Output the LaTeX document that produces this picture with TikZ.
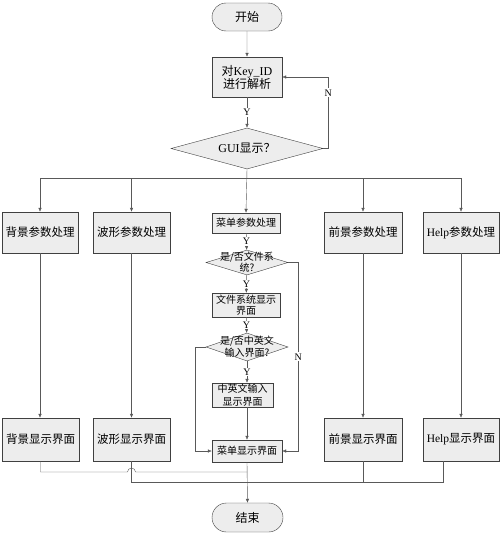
\documentclass[tikz,border=0pt]{standalone}
\usepackage{fontspec}
\setmainfont{Noto Sans CJK SC}
\newfontfamily\lat{Liberation Serif}
\usetikzlibrary{shapes.geometric,shapes.misc,arrows.meta}
\colorlet{boxfill}{black!7}
\colorlet{boxline}{black!75}
\colorlet{flowline}{black!65}
\begin{document}
\begin{tikzpicture}[x=1pt,y=-1pt,
    box/.style={rectangle,draw=boxline,fill=boxfill,inner sep=0pt,align=center},
    term/.style={rounded rectangle,draw=boxline,fill=boxfill,inner sep=0pt,
      minimum width=70,minimum height=28,font=\fontsize{12}{13}\selectfont},
    dec/.style={diamond,draw=boxline,fill=boxfill,inner sep=0pt},
    arr/.style={draw=flowline,-{Latex[length=4pt,width=3.5pt]}},
    ln/.style={draw=flowline},
    yn/.style={fill=white,inner sep=1pt,font=\lat\fontsize{10}{10}\selectfont}]

      \useasboundingbox (0,0) rectangle (500,533);

      \node[term] (start) at (247,17) {开始};
      \node[box,minimum width=70,minimum height=40,font=\fontsize{12}{13}\selectfont]
        (key) at (247,77) {对{\lat Key\_ID}\\进行解析};
      \node[dec,minimum width=152,minimum height=41,
        label={[font=\fontsize{12}{13}\selectfont]center:{\lat GUI}显示？}]
        (gui) at (247,148.5) {};
      \coordinate (split) at (247,178);

      % two rows of side boxes
      \begin{scope}[every node/.style={box,minimum height=41,font=\fontsize{11.5}{12}\selectfont}]
        \node[minimum width=76] (bgp) at (40,232.5)    {背景参数处理};
        \node[minimum width=77] (wvp) at (131.5,232.5) {波形参数处理};
        \node[minimum width=78] (fgp) at (363,232.5)   {前景参数处理};
        \node[minimum width=76] (hlp) at (461,232.5)   {{\lat Help}参数处理};
      \end{scope}
      \begin{scope}[every node/.style={box,minimum height=43,font=\fontsize{11.5}{12}\selectfont}]
        \node[minimum width=77] (bgs) at (40.5,439.5)  {背景显示界面};
        \node[minimum width=77] (wvs) at (131.5,439.5) {波形显示界面};
        \node[minimum width=78] (fgs) at (363,439.5)   {前景显示界面};
        \node[minimum width=76] (hls) at (461,439.5)   {{\lat Help}显示界面};
      \end{scope}

      % menu column
      \begin{scope}[every node/.style={font=\fontsize{10}{11}\selectfont}]
        \node[box,minimum width=68,minimum height=20] (menu) at (246,223) {菜单参数处理};
        \node[dec,minimum width=82,minimum height=25,
          label={[align=center,font=\fontsize{10}{11}\selectfont]center:是/否文件系\\统?}]
          (d1) at (247,262.5) {};
        \node[box,minimum width=68,minimum height=24] (fs) at (246,305) {文件系统显示\\界面};
        \node[dec,minimum width=82,minimum height=28,
          label={[align=center,font=\fontsize{10}{12}\selectfont]center:是/否中英文\\输入界面?}]
          (d2) at (247,347) {};
        \node[box,minimum width=61,minimum height=24,font=\fontsize{10}{13}\selectfont]
          (cn) at (242.5,395) {中英文输入\\显示界面};
        \node[box,minimum width=70,minimum height=22] (mshow) at (247,451) {菜单显示界面};
      \end{scope}

      \node[term,minimum width=71,minimum height=29] (end) at (247.5,517.5) {结束};

      \coordinate (j1) at (247,472);
      \coordinate (j2) at (247,482);

      \draw[arr] (start) -- (key);
      \draw[arr] (key) -- node[yn] {Y} (gui);
      \draw[arr] (gui.east) -- ++(5,0) |- node[yn,pos=0.39] {N} (key.east);
      \draw[arr] (gui.south) -- (menu.north);
      \draw[ln] (bgp.north |- split) -- (hlp.north |- split);
      \foreach \a/\b in {bgp/bgs,wvp/wvs,fgp/fgs,hlp/hls} {
        \draw[arr] (\a.north |- split) -- (\a.north);
        \draw[arr] (\a.south) -- (\a.south |- \b.north);
      }

      \draw[arr] (menu) -- node[yn] {Y} (d1);
      \draw[arr] (d1) -- node[yn] {Y} (fs);
      \draw[arr] (fs) -- node[yn] {Y} (d2);
      \draw[arr] (d2.south) -- node[yn] {Y} (d2.south |- cn.north);
      \draw[arr] (d2.south |- cn.south) -- (mshow.north);
      \draw[arr] (d2.west) -- ++(-11,0) |- (mshow.west);
      \draw[arr] (d1.east) -- ++(10,0) |- node[yn,pos=0.25] {N} (mshow.east);

      \draw[ln] (bgs.south) |- ([xshift=-4pt]wvs.south |- j1)
        arc[start angle=180,end angle=0,radius=4pt] -- (j1);
      \draw[ln] (wvs.south) |- ([xshift=-18pt]hls.south |- j2) -- ([xshift=-18pt]hls.south);
      \draw[ln] (fgs.south) -- (fgs.south |- j2);
      \draw[arr] (mshow.south) -- (end.north);

    \end{tikzpicture}
\end{document}
